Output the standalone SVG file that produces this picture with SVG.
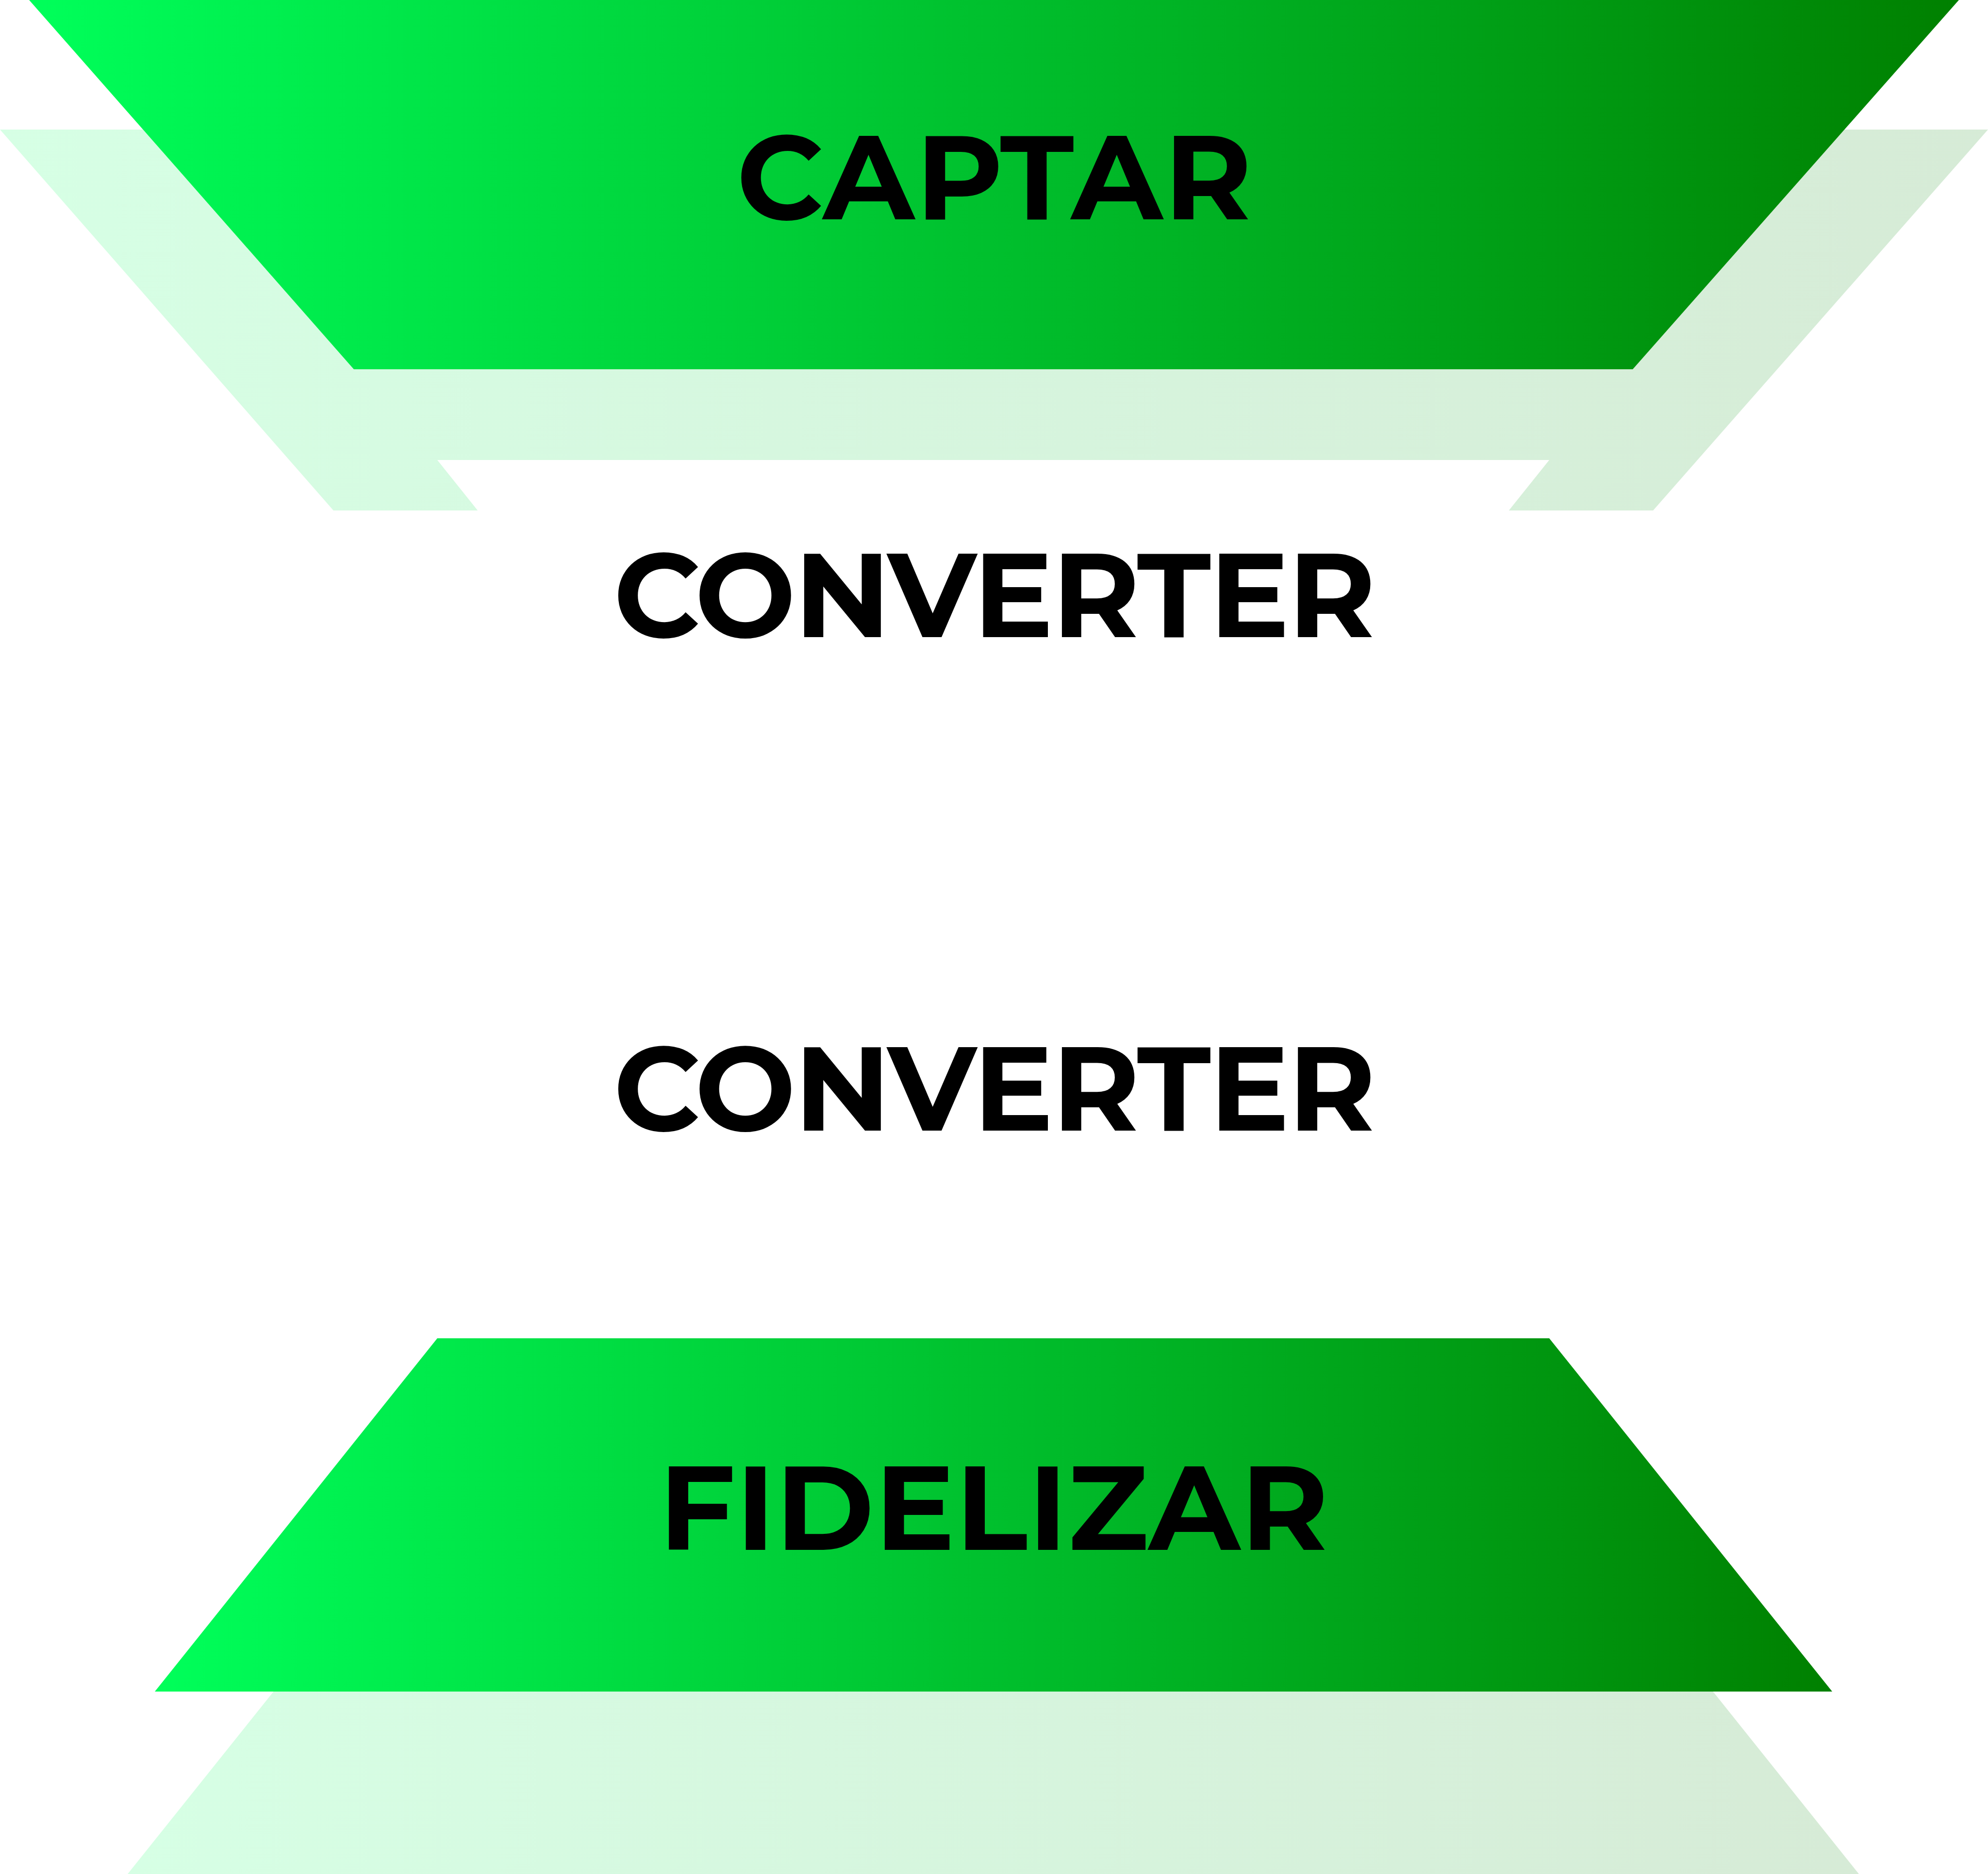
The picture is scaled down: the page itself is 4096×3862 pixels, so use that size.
<svg xmlns="http://www.w3.org/2000/svg" width="4096" height="3862" viewBox="0 0 4096 3862">
<style>
.lbl{font-family:"Montserrat","Liberation Sans",Arial,sans-serif;font-weight:700;font-size:246px;fill:#000;text-anchor:middle;}
.shadow{opacity:0.16;}
.blank{fill:#ffffff;}
</style>
<defs>
<linearGradient id="g" x1="0" y1="0" x2="1" y2="0">
<stop offset="0" stop-color="#00ff5a"/>
<stop offset="1" stop-color="#008000"/>
</linearGradient>
</defs>
<rect width="4096" height="3862" fill="#ffffff"/>
<g id="captar-shadow">
<polygon class="shadow" fill="url(#g)" points="0,267 4096,267 3406,1052 687,1052"/>
</g>
<g id="captar">
<polygon fill="url(#g)" points="60,0 4036,0 3364,761 729,761"/>
<text class="lbl" x="2050" y="452" letter-spacing="3">CAPTAR</text>
</g>
<g id="converter-1">
<polygon class="blank" points="901,948 3192,948 2956,1243 1137,1243"/>
<polygon class="blank" points="865,1243 3226,1243 2686,1920 1407,1920"/>
<text class="lbl" x="2048" y="1313" letter-spacing="-3">CONVERTER</text>
</g>
<g id="converter-2">
<polygon class="blank" points="1411,1920 2686,1920 3192,2550 901,2550"/>
<text class="lbl" x="2048" y="2330" letter-spacing="-3">CONVERTER</text>
</g>
<g id="fidelizar-shadow">
<polygon class="shadow" fill="url(#g)" points="901,3064 3192,3064 3830,3862 263,3862"/>
</g>
<g id="fidelizar">
<polygon fill="url(#g)" points="901,2758 3192,2758 3775,3486 319,3486"/>
<text class="lbl" x="2048" y="3194" letter-spacing="1.2">FIDELIZAR</text>
</g>
<g id="connectors"></g>
</svg>
